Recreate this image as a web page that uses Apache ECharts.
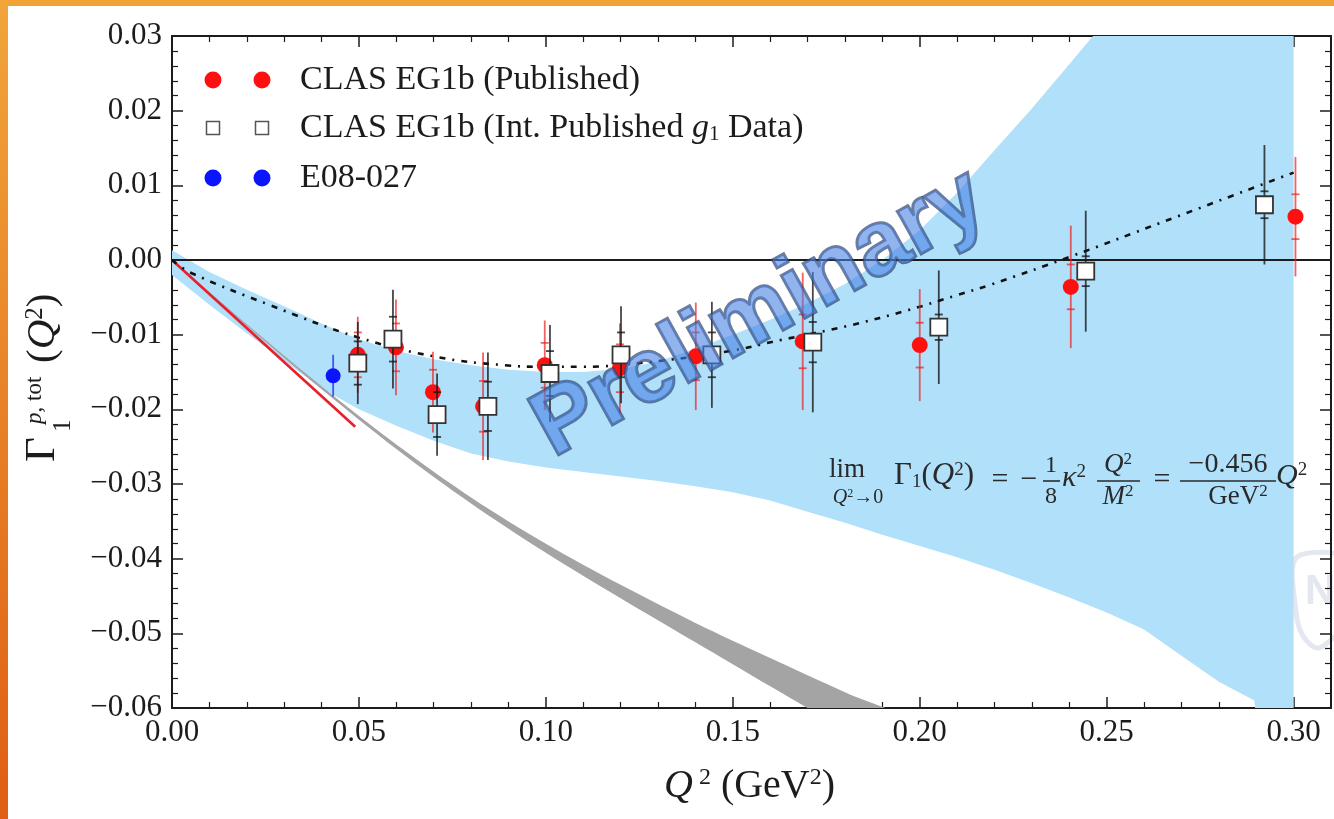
<!DOCTYPE html>
<html>
<head>
<meta charset="utf-8">
<title>Gamma1 proton</title>
<script src="https://cdn.jsdelivr.net/npm/echarts@6/dist/echarts.min.js"></script>
<style>
  html, body { margin: 0; padding: 0; background: #ffffff; }
  #chart { width: 1334px; height: 819px; }
</style>
</head>
<body>
<div id="chart"></div>
<script>
// ---------- axis ranges and tick labels ----------
const X_MIN = 0, X_MAX = 0.31, X_STEP = 0.05;
const Y_MIN = -0.06, Y_MAX = 0.03, Y_STEP = 0.01;
const X_TICK_VALUES = [0, 0.05, 0.10, 0.15, 0.20, 0.25, 0.30];
const X_TICK_LABELS = ['0.00', '0.05', '0.10', '0.15', '0.20', '0.25', '0.30'];
const Y_TICK_VALUES = [-0.06, -0.05, -0.04, -0.03, -0.02, -0.01, 0, 0.01, 0.02, 0.03];
const Y_TICK_LABELS = ['\u22120.06', '\u22120.05', '\u22120.04', '\u22120.03', '\u22120.02', '\u22120.01', '0.00', '0.01', '0.02', '0.03'];

// ---------- model band (light blue) ----------
const BLUE_UPPER_Q2 = [0, 0.01, 0.02, 0.03, 0.04, 0.05, 0.06, 0.07, 0.08, 0.09, 0.10, 0.11, 0.12, 0.13, 0.14, 0.15, 0.16, 0.17, 0.18, 0.19, 0.20, 0.21, 0.22, 0.23, 0.24, 0.25, 0.26, 0.28, 0.30];
const BLUE_UPPER = [0.0013, -0.0016, -0.0040, -0.0062, -0.0085, -0.0106, -0.0122, -0.0133, -0.0141, -0.0147, -0.0150, -0.0150, -0.0146, -0.0136, -0.0119, -0.0100, -0.0080, -0.0058, -0.0032, 0.0000, 0.0040, 0.0090, 0.0147, 0.0203, 0.0262, 0.0322, 0.0390, 0.0540, 0.0700];
const BLUE_LOWER_Q2 = [0, 0.01, 0.02, 0.03, 0.04, 0.05, 0.06, 0.07, 0.08, 0.09, 0.10, 0.11, 0.12, 0.13, 0.14, 0.15, 0.16, 0.17, 0.18, 0.19, 0.20, 0.21, 0.22, 0.23, 0.24, 0.25, 0.26, 0.27, 0.28, 0.2895, 0.2905, 0.30];
const BLUE_LOWER = [-0.0020, -0.0060, -0.0098, -0.0135, -0.0172, -0.0200, -0.0222, -0.0242, -0.0259, -0.0270, -0.0278, -0.0284, -0.0290, -0.0296, -0.0303, -0.0311, -0.0322, -0.0337, -0.0352, -0.0368, -0.0383, -0.0398, -0.0415, -0.0433, -0.0452, -0.0472, -0.0495, -0.0530, -0.0565, -0.0590, -0.0640, -0.0700];

// ---------- chiral band (grey) ----------
const GRAY_Q2 = [0, 0.02, 0.04, 0.06, 0.08, 0.10, 0.12, 0.14, 0.16, 0.18, 0.20];
const GRAY_UPPER = [0, -0.0086, -0.0169, -0.0247, -0.0318, -0.0380, -0.0435, -0.0486, -0.0533, -0.0579, -0.0626];
const GRAY_LOWER = [0, -0.0088, -0.0173, -0.0253, -0.0326, -0.0392, -0.0453, -0.0512, -0.0571, -0.0629, -0.0686];

// ---------- GDH slope at the photon point ----------
const GDH_SLOPE = -0.456;   // GeV^-2
const GDH_Q2_END = 0.049;

// ---------- dash-dot model curve ----------
const MODEL_Q2 = [0, 0.005, 0.026, 0.05, 0.071, 0.089, 0.10, 0.11, 0.127, 0.148, 0.163, 0.181, 0.197, 0.21, 0.219, 0.24, 0.265, 0.30];
const MODEL_VAL = [0, -0.0017, -0.0060, -0.0104, -0.0130, -0.0141, -0.0143, -0.0143, -0.0137, -0.0123, -0.0107, -0.0088, -0.0067, -0.0047, -0.0033, 0.0004, 0.0051, 0.0117];

// ---------- CLAS EG1b (Published) ----------
const PUB_Q2 = [0.0497, 0.0599, 0.0698, 0.0832, 0.0997, 0.1198, 0.1401, 0.1687, 0.2000, 0.2404, 0.3005];
const PUB_VAL = [-0.0127, -0.0117, -0.0177, -0.0196, -0.0141, -0.0145, -0.0129, -0.0109, -0.0114, -0.0036, 0.0058];
const PUB_ERR_TOT = [0.0051, 0.0064, 0.0054, 0.0072, 0.0060, 0.0060, 0.0072, 0.0092, 0.0075, 0.0082, 0.0080];
const PUB_ERR_STAT = [0.0030, 0.0032, 0.0030, 0.0034, 0.0030, 0.0032, 0.0032, 0.0036, 0.0030, 0.0030, 0.0030];

// ---------- CLAS EG1b (integrated published g1) ----------
const INT_Q2 = [0.0497, 0.0591, 0.0709, 0.0845, 0.1011, 0.1201, 0.1444, 0.1714, 0.2051, 0.2444, 0.2922];
const INT_VAL = [-0.0138, -0.0106, -0.0207, -0.0196, -0.0152, -0.0127, -0.0127, -0.0110, -0.0090, -0.0015, 0.0074];
const INT_ERR_TOT = [0.0055, 0.0066, 0.0055, 0.0072, 0.0065, 0.0065, 0.0071, 0.0094, 0.0076, 0.0081, 0.0080];
const INT_ERR_STAT = [0.0029, 0.0030, 0.0030, 0.0033, 0.0030, 0.0030, 0.0030, 0.0027, 0.0017, 0.0020, 0.0018];

// ---------- E08-027 ----------
const E08_Q2 = [0.0431];
const E08_VAL = [-0.0155];
const E08_ERR = [0.0028];

// ---------- legend ----------
const LEGEND_NAMES = ['CLAS EG1b (Published)', 'CLAS EG1b (Int. Published {gi|g}{sub|1} Data)', 'E08-027'];

// ---------- styling ----------
const SERIF = "'Liberation Serif','DejaVu Serif','Times New Roman',serif";
const SANS = "'Liberation Sans',Arial,sans-serif";
const INK = '#1c1c1c';
const MATH_INK = '#2a2a2a';
const RED = '#ff1010';
const BLUE = '#0a14ff';
const BAND_BLUE = '#b0e0fa';
const BAND_GRAY = '#a4a4a4';

function labelFor(values, labels, v) {
  for (let i = 0; i < values.length; i++) {
    if (Math.abs(values[i] - v) < 1e-9) return labels[i];
  }
  return '';
}

function zip(...cols) {
  return cols[0].map((_, i) => cols.map(c => c[i]));
}

// filled region between two curves, clipped to the grid
function bandItem(qU, vU, qL, vL, color, smooth) {
  return function (params, api) {
    const pts = [];
    for (let i = 0; i < qU.length; i++) pts.push(api.coord([qU[i], vU[i]]));
    for (let i = qL.length - 1; i >= 0; i--) pts.push(api.coord([qL[i], vL[i]]));
    return { type: 'polygon', shape: { points: pts, smooth: smooth || 0 }, style: { fill: color } };
  };
}

// vertical total-error bar with short caps at the statistical error
function errorBarItem(color, width, capHalf) {
  return function (params, api) {
    const x = api.value(0), y = api.value(1), et = api.value(2), es = api.value(3);
    const top = api.coord([x, y + et]);
    const bot = api.coord([x, y - et]);
    const style = { stroke: color, lineWidth: width };
    const children = [
      { type: 'line', shape: { x1: top[0], y1: top[1], x2: bot[0], y2: bot[1] }, style }
    ];
    if (es > 0) {
      const st = api.coord([x, y + es]);
      const sb = api.coord([x, y - es]);
      children.push({ type: 'line', shape: { x1: st[0] - capHalf, y1: st[1], x2: st[0] + capHalf, y2: st[1] }, style });
      children.push({ type: 'line', shape: { x1: sb[0] - capHalf, y1: sb[1], x2: sb[0] + capHalf, y2: sb[1] }, style });
    }
    return { type: 'group', children };
  };
}

const tickLine = { color: INK, width: 1.5 };
const axisCommon = {
  type: 'value',
  splitLine: { show: false },
  minorSplitLine: { show: false },
  axisLine: { show: true, onZero: false, lineStyle: { color: INK, width: 2 } },
  axisTick: { show: true, inside: true, length: 11, lineStyle: tickLine },
  minorTick: { show: true, splitNumber: 5, length: 6, lineStyle: { color: INK, width: 1.2 } }
};

const xBottom = Object.assign({}, axisCommon, {
  min: X_MIN, max: X_MAX, interval: X_STEP, position: 'bottom',
  axisLabel: {
    show: true, margin: 9, fontSize: 31, fontFamily: SERIF, color: INK,
    formatter: v => labelFor(X_TICK_VALUES, X_TICK_LABELS, v)
  }
});
const xTop = Object.assign({}, axisCommon, {
  min: X_MIN, max: X_MAX, interval: X_STEP, position: 'top',
  axisLabel: { show: false }
});
const yLeft = Object.assign({}, axisCommon, {
  min: Y_MIN, max: Y_MAX, interval: Y_STEP, position: 'left',
  axisLabel: {
    show: true, margin: 10, fontSize: 31, fontFamily: SERIF, color: INK,
    formatter: v => labelFor(Y_TICK_VALUES, Y_TICK_LABELS, v)
  }
});
const yRight = Object.assign({}, axisCommon, {
  min: Y_MIN, max: Y_MAX, interval: Y_STEP, position: 'right',
  axisLabel: { show: false }
});

// ---------- rich text styles for math ----------
function mathRich(base) {
  return {
    it: { fontStyle: 'italic', fontFamily: SERIF, fontSize: base, lineHeight: base, fill: MATH_INK },
    sup: { fontFamily: SERIF, fontSize: Math.round(base * 0.62), lineHeight: Math.round(base * 0.4), verticalAlign: 'top', fill: MATH_INK },
    sub: { fontFamily: SERIF, fontSize: Math.round(base * 0.62), lineHeight: Math.round(base * 0.4), verticalAlign: 'bottom', fill: MATH_INK }
  };
}
function mathText(x, y, text, size, align) {
  return {
    type: 'text', x, y, z: 30,
    style: {
      text, fontSize: size, fontFamily: SERIF, lineHeight: size, fill: MATH_INK,
      align: align || 'left', verticalAlign: 'middle',
      textAlign: align || 'left', textVerticalAlign: 'middle',
      rich: mathRich(size)
    }
  };
}
function fracBar(x1, x2, y) {
  return { type: 'line', z: 30, shape: { x1, y1: y, x2, y2: y }, style: { stroke: MATH_INK, lineWidth: 1.6 } };
}

// ---------- legend glyphs ----------
const LEG_X1 = 213, LEG_X2 = 262, LEG_TEXT_X = 300, LEG_ROWS = [80, 128, 178];
function legendGlyph(kind, cx, cy) {
  if (kind === 'square') {
    return { type: 'rect', z: 40, shape: { x: cx - 6.5, y: cy - 6.5, width: 13, height: 13 },
      style: { fill: '#ffffff', stroke: '#555555', lineWidth: 1.5 } };
  }
  return { type: 'circle', z: 40, shape: { cx, cy, r: 8.5 }, style: { fill: kind === 'red' ? RED : BLUE } };
}
const legendKinds = ['red', 'square', 'blue'];
const legendGraphics = [];
legendKinds.forEach((k, i) => {
  legendGraphics.push(legendGlyph(k, LEG_X1, LEG_ROWS[i]));
  legendGraphics.push(legendGlyph(k, LEG_X2, LEG_ROWS[i]));
  legendGraphics.push({
    type: 'text', x: LEG_TEXT_X, y: LEG_ROWS[i], z: 40,
    style: {
      text: LEGEND_NAMES[i], fontSize: 34, fontFamily: SERIF, lineHeight: 34, fill: INK,
      align: 'left', verticalAlign: 'middle', textAlign: 'left', textVerticalAlign: 'middle',
      rich: {
        gi: { fontStyle: 'italic', fontSize: 34, fontFamily: SERIF, lineHeight: 34, fill: INK },
        sub: { fontSize: 21, fontFamily: SERIF, lineHeight: 12, verticalAlign: 'bottom', fill: INK }
      }
    }
  });
});

// ---------- axis titles ----------
const yTitle = {
  type: 'group', x: 64, y: 462, rotation: Math.PI / 2, z: 30,
  children: [
    { type: 'text', x: 0, y: 0, style: { text: '\u0393', fontSize: 43, fontFamily: SERIF, fill: INK, align: 'left', verticalAlign: 'bottom', textAlign: 'left', textVerticalAlign: 'bottom' } },
    { type: 'text', x: 30, y: 12, style: { text: '1', fontSize: 25, fontFamily: SERIF, fill: INK, align: 'left', verticalAlign: 'bottom', textAlign: 'left', textVerticalAlign: 'bottom' } },
    { type: 'text', x: 38, y: -18, style: { text: '{it|p}, tot', fontSize: 23, fontFamily: SERIF, fill: INK, align: 'left', verticalAlign: 'bottom', textAlign: 'left', textVerticalAlign: 'bottom',
      rich: { it: { fontStyle: 'italic', fontSize: 23, fontFamily: SERIF, fill: INK } } } },
    { type: 'text', x: 99, y: 0, style: { text: '({it|Q}{sup|2})', fontSize: 41, fontFamily: SERIF, lineHeight: 41, fill: INK, align: 'left', verticalAlign: 'bottom', textAlign: 'left', textVerticalAlign: 'bottom',
      rich: {
        it: { fontStyle: 'italic', fontSize: 41, fontFamily: SERIF, lineHeight: 41, fill: INK },
        sup: { fontSize: 25, fontFamily: SERIF, lineHeight: 14, verticalAlign: 'top', fill: INK }
      } } }
  ]
};
const xTitle = {
  type: 'text', x: 664, y: 786, z: 30,
  style: {
    text: '{it|Q}{sup| 2} (GeV{sup|2})', fontSize: 40, fontFamily: SERIF, lineHeight: 40, fill: INK,
    align: 'left', verticalAlign: 'middle', textAlign: 'left', textVerticalAlign: 'middle',
    rich: {
      it: { fontStyle: 'italic', fontSize: 40, fontFamily: SERIF, lineHeight: 40, fill: INK },
      sup: { fontSize: 24, fontFamily: SERIF, lineHeight: 13, verticalAlign: 'top', fill: INK }
    }
  }
};

// ---------- GDH limit formula ----------
const formula = [
  mathText(847, 470, 'lim', 27, 'center'),
  mathText(858, 498, '{it|Q}{sup|2}\u21920', 20, 'center'),
  mathText(894, 476, '\u0393{sub|1}({it|Q}{sup|2})', 31),
  mathText(1000, 480, '=', 30, 'center'),
  mathText(1029, 480, '\u2212', 30, 'center'),
  mathText(1051, 466, '1', 24, 'center'),
  fracBar(1043, 1060, 481),
  mathText(1051, 497, '8', 24, 'center'),
  mathText(1062, 478, '{it|\u03ba}{sup|2}', 30),
  mathText(1118, 465, '{it|Q}{sup|2}', 27, 'center'),
  fracBar(1097, 1140, 481),
  mathText(1118, 497, '{it|M}{sup|2}', 27, 'center'),
  mathText(1162, 480, '=', 30, 'center'),
  mathText(1228, 465, '\u22120.456', 28, 'center'),
  fracBar(1180, 1276, 481),
  mathText(1238, 497, 'GeV{sup|2}', 27, 'center'),
  mathText(1276, 476, '{it|Q}{sup|2}', 30)
];

// ---------- page decoration ----------
const SHIELD = [[1296, 558], [1345, 558], [1345, 612], [1340, 630], [1318, 648], [1303, 636], [1296, 612]];
const frame = [
  { type: 'rect', z: 50, shape: { x: 0, y: 0, width: 1334, height: 6 }, style: { fill: '#f1a235' } },
  { type: 'rect', z: 50, shape: { x: 0, y: 0, width: 8, height: 819 },
    style: { fill: new echarts.graphic.LinearGradient(0, 0, 0, 1, [
      { offset: 0, color: '#f1a53a' }, { offset: 1, color: '#df5e14' }]) } },
  { type: 'polygon', z: 0, shape: { points: SHIELD, smooth: 0.3 },
    style: { fill: 'none', stroke: '#e4e7ef', lineWidth: 5 } },
  { type: 'text', x: 1305, y: 592, z: 0,
    style: { text: 'N', fontSize: 42, fontWeight: 'bold', fontFamily: SANS, fill: '#e4e7ef', align: 'left', verticalAlign: 'middle', textAlign: 'left', textVerticalAlign: 'middle' } }
];

const watermark = {
  type: 'text', x: 760, y: 314, rotation: 29 * Math.PI / 180, z: 100,
  style: {
    text: 'Preliminary', fontSize: 92, fontWeight: 'bold', fontFamily: SANS,
    fill: 'rgba(72,128,226,0.6)', stroke: 'rgba(50,68,105,0.7)', lineWidth: 3,
    align: 'center', verticalAlign: 'middle', textAlign: 'center', textVerticalAlign: 'middle'
  }
};

const chart = echarts.init(document.getElementById('chart'), null, { renderer: 'canvas' });
chart.setOption({
  animation: false,
  backgroundColor: '#ffffff',
  grid: { left: 172, right: 3, top: 36, bottom: 111, containLabel: false },
  xAxis: [xBottom, xTop],
  yAxis: [yLeft, yRight],
  series: [
    { type: 'custom', name: 'band', silent: true, clip: true, z: 1, data: [[0, 0]],
      renderItem: bandItem(BLUE_UPPER_Q2, BLUE_UPPER, BLUE_LOWER_Q2, BLUE_LOWER, BAND_BLUE, 0) },
    { type: 'custom', name: 'chiral', silent: true, clip: true, z: 2, data: [[0, 0]],
      renderItem: bandItem(GRAY_Q2, GRAY_UPPER, GRAY_Q2, GRAY_LOWER, BAND_GRAY, 0.3) },
    { type: 'line', name: 'gdh', silent: true, z: 3, symbol: 'none',
      data: [[0, 0], [GDH_Q2_END, GDH_SLOPE * GDH_Q2_END]],
      lineStyle: { color: '#e8202a', width: 2.6 } },
    { type: 'line', name: 'zero', silent: true, z: 3, symbol: 'none',
      data: [[X_MIN, 0], [X_MAX, 0]],
      lineStyle: { color: INK, width: 2 } },
    { type: 'line', name: 'model', silent: true, z: 4, symbol: 'none', smooth: 0.4,
      data: zip(MODEL_Q2, MODEL_VAL),
      lineStyle: { color: '#111111', width: 2.6, type: [6, 7, 2, 7] } },
    { type: 'custom', name: 'pubErr', silent: true, z: 5,
      data: zip(PUB_Q2, PUB_VAL, PUB_ERR_TOT, PUB_ERR_STAT),
      renderItem: errorBarItem('rgba(240,30,30,0.7)', 1.8, 4) },
    { type: 'scatter', name: 'CLAS EG1b (Published)', silent: true, z: 6, symbol: 'circle', symbolSize: 16,
      data: zip(PUB_Q2, PUB_VAL), itemStyle: { color: RED, opacity: 1 } },
    { type: 'custom', name: 'intErr', silent: true, z: 7,
      data: zip(INT_Q2, INT_VAL, INT_ERR_TOT, INT_ERR_STAT),
      renderItem: errorBarItem('rgba(25,25,25,0.8)', 1.8, 4) },
    { type: 'custom', name: 'e08Err', silent: true, z: 7,
      data: zip(E08_Q2, E08_VAL, E08_ERR, E08_ERR.map(() => 0)),
      renderItem: errorBarItem('rgba(20,40,255,0.75)', 1.8, 0) },
    { type: 'scatter', name: 'CLAS EG1b (Int.)', silent: true, z: 8, symbol: 'rect', symbolSize: 17,
      data: zip(INT_Q2, INT_VAL), itemStyle: { color: '#ffffff', borderColor: '#333333', borderWidth: 1.8, opacity: 1 } },
    { type: 'scatter', name: 'E08-027', silent: true, z: 8, symbol: 'circle', symbolSize: 15,
      data: zip(E08_Q2, E08_VAL), itemStyle: { color: BLUE, opacity: 1 } }
  ],
  graphic: [].concat(frame, legendGraphics, [yTitle, xTitle], formula, [watermark])
});
</script>
</body>
</html>
